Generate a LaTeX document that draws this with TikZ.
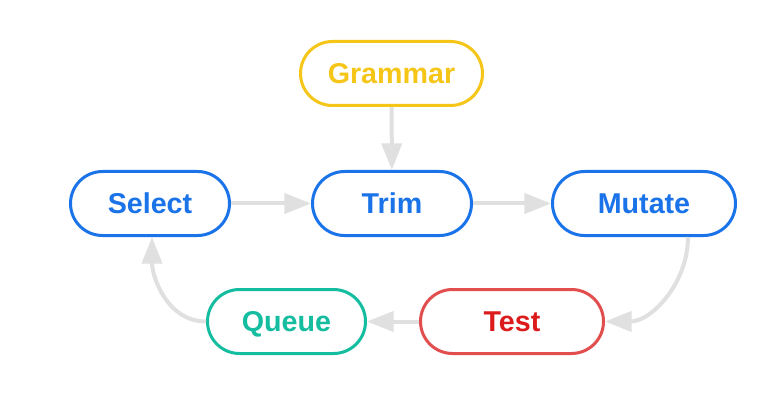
\documentclass[tikz,border=0pt]{standalone}
\usepackage{fontspec}
\setmainfont{Liberation Sans}
\usetikzlibrary{arrows.meta}
\definecolor{cyellow}{RGB}{245,197,24}
\definecolor{cblue}{RGB}{26,115,232}
\definecolor{cteal}{RGB}{20,189,160}
\definecolor{credbd}{RGB}{226,78,78}
\definecolor{credtx}{RGB}{220,28,28}
\definecolor{carrow}{RGB}{224,224,224}
\tikzset{
  pill/.style={draw, line width=2.25pt, rounded corners=24pt, minimum height=48pt,
    inner sep=0pt, text height=15.4pt, text depth=0pt, fill=white,
    font=\fontsize{21.5}{26}\selectfont\bfseries},
  flow/.style={draw=carrow, line width=3pt, -{Triangle[length=20pt,width=15pt]}}
}
\begin{document}
\begin{tikzpicture}[x=0.75pt,y=-0.75pt]
\useasboundingbox[fill=white] (0,0) rectangle (778,406);
\node[pill, draw=cyellow, text=cyellow, minimum width=136.5pt] (grammar) at (391.5,73.5) {Grammar};
\node[pill, draw=cblue, text=cblue, minimum width=119.25pt] (select) at (150,203.5) {Select};
\node[pill, draw=cblue, text=cblue, minimum width=119.25pt] (trim) at (392,203.5) {Trim};
\node[pill, draw=cblue, text=cblue, minimum width=137.25pt] (mutate) at (644,203.5) {Mutate};
\node[pill, draw=cteal, text=cteal, minimum width=118.5pt] (queue) at (286.5,321.5) {Queue};
\node[pill, draw=credbd, text=credtx, minimum width=137.25pt] (test) at (512,321.5) {Test};
\draw[flow] (grammar) -- (trim);
\draw[flow] (select) -- (trim);
\draw[flow] (trim) -- (mutate);
\draw[flow] ([xshift=33pt]mutate.south) to[out=-90,in=0] (test.east);
\draw[flow] (test) -- (queue);
\draw[flow] (queue.west) to[out=180,in=-90] ([xshift=1.5pt]select.south);
\end{tikzpicture}
\end{document}
